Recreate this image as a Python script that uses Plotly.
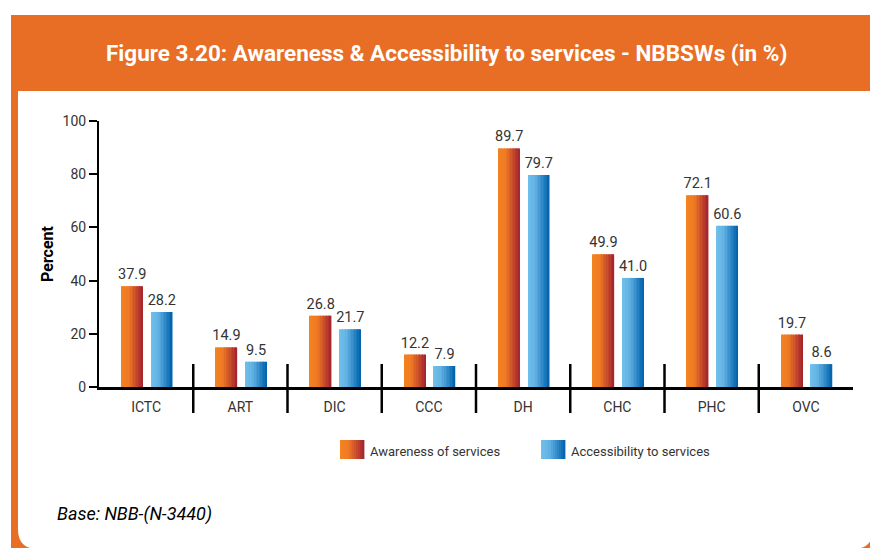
import plotly.graph_objects as go

categories = ["ICTC", "ART", "DIC", "CCC", "DH", "CHC", "PHC", "OVC"]
awareness = [37.9, 14.9, 26.8, 12.2, 89.7, 49.9, 72.1, 19.7]
accessibility = [28.2, 9.5, 21.7, 7.9, 79.7, 41.0, 60.6, 8.6]
series_names = ["Awareness of services", "Accessibility to services"]
y_ticks = [0, 20, 40, 60, 80, 100]

title_text = "Figure 3.20: Awareness & Accessibility to services - NBBSWs (in %)"
footer_text = "Base: NBB-(N-3440)"

FONT = "Roboto, Liberation Sans Narrow, Arial Narrow, sans-serif"

# figure geometry (pixels)
FW, FH = 870, 548
L, R, T, B = 99, 17, 121, 161
PW = FW - L - R
PH = FH - T - B
BOT = FH - B


def px(xp):
    return (xp - L) / PW


def py(yp):
    return (BOT - yp) / PH


def lerp(stops, t):
    for (t0, c0), (t1, c1) in zip(stops, stops[1:]):
        if t0 <= t <= t1:
            f = (t - t0) / (t1 - t0) if t1 > t0 else 0
            return "rgb(%d,%d,%d)" % tuple(round(a + (b - a) * f) for a, b in zip(c0, c1))
    return "rgb(%d,%d,%d)" % stops[-1][1]


orange_stops = [(0.0, (243, 131, 32)), (0.35, (240, 122, 36)), (1.0, (163, 34, 48))]
blue_stops = [(0.0, (112, 192, 236)), (0.35, (98, 178, 228)), (1.0, (0, 98, 172))]

K = 14
bar_w = 0.228
offsets = [-0.262, 0.052]

fig = go.Figure()

for vals, stops, off in [(awareness, orange_stops, offsets[0]), (accessibility, blue_stops, offsets[1])]:
    step = bar_w / K
    for j in range(K):
        t = (j + 0.5) / K
        w = step * 1.25 if j < K - 1 else step
        fig.add_trace(go.Bar(
            x=categories, y=vals, width=w, offset=off + j * step,
            marker=dict(color=lerp(stops, t), line=dict(width=0)),
            showlegend=False, hoverinfo="skip",
        ))
    # transparent bar carrying the value labels
    fig.add_trace(go.Bar(
        x=categories, y=vals, width=bar_w, offset=off,
        marker=dict(color="rgba(0,0,0,0)", line=dict(width=0)),
        text=["%.1f" % v for v in vals], textposition="outside", constraintext="none",
        textfont=dict(family=FONT, size=14.5, color="#333333"),
        cliponaxis=False, showlegend=False, hoverinfo="skip",
    ))

shapes = []
# orange frame
shapes.append(dict(type="rect", xref="paper", yref="paper", x0=px(11), x1=px(885), y0=py(15), y1=py(565),
                   fillcolor="#E86D25", line=dict(width=0), layer="below"))
# white panel with rounded bottom corners
x0, x1, y0, y1, r = px(18), px(873), py(91), py(549), 20
rx, ry = r / PW, r / PH
path = (f"M {x0},{y0} L {x1},{y0} L {x1},{y1 + ry} Q {x1},{y1} {x1 - rx},{y1} "
        f"L {x0 + rx},{y1} Q {x0},{y1} {x0},{y1 + ry} Z")
shapes.append(dict(type="path", xref="paper", yref="paper", path=path,
                   fillcolor="white", line=dict(width=0), layer="below"))
# category dividers
for i in range(len(categories) - 1):
    shapes.append(dict(type="line", xref="x", yref="paper", x0=i + 0.5, x1=i + 0.5,
                       y0=py(364), y1=py(413), line=dict(color="black", width=2.5)))

# legend swatches (gradient)
annotations = []
legend_x = [340, 541]
for lx, stops, name in zip(legend_x, [orange_stops, blue_stops], series_names):
    n = 12
    sw = 24 / n
    for j in range(n):
        shapes.append(dict(type="rect", xref="paper", yref="paper",
                           x0=px(lx + j * sw), x1=px(lx + (j + 1) * sw + 0.4),
                           y0=py(459), y1=py(440),
                           fillcolor=lerp(stops, (j + 0.5) / n), line=dict(width=0)))
    annotations.append(dict(xref="paper", yref="paper", x=px(lx + 28), y=py(451),
                            text=name, showarrow=False, xanchor="left", yanchor="middle",
                            font=dict(family=FONT, size=13, color="#333333")))

annotations.append(dict(xref="paper", yref="paper", x=px(446), y=py(53), text="<b>" + title_text + "</b>",
                        showarrow=False, xanchor="center", yanchor="middle",
                        font=dict(family=FONT, size=22.5, color="white")))
annotations.append(dict(xref="paper", yref="paper", x=px(55), y=py(514), text="<i>" + footer_text + "</i>",
                        showarrow=False, xanchor="left", yanchor="middle",
                        font=dict(family=FONT, size=18, color="black")))

fig.update_layout(
    width=FW, height=FH,
    margin=dict(l=L, r=R, t=T, b=B, pad=0),
    paper_bgcolor="white", plot_bgcolor="rgba(0,0,0,0)",
    barmode="overlay", showlegend=False,
    shapes=shapes, annotations=annotations,
    font=dict(family=FONT, color="#333333"),
    xaxis=dict(
        range=[-0.5, len(categories) - 0.5], showgrid=False, zeroline=False,
        showline=True, linecolor="black", linewidth=2.5, ticks="",
        tickfont=dict(family=FONT, size=14, color="#333333"),
        ticklabelstandoff=5, fixedrange=True,
    ),
    yaxis=dict(
        range=[0, 100], tickvals=y_ticks, showgrid=False, zeroline=False,
        showline=True, linecolor="black", linewidth=2, ticks="outside", ticklen=8,
        tickwidth=1.5, tickcolor="black",
        tickfont=dict(family=FONT, size=14, color="#333333"),
        title=dict(text="<b>Percent</b>", font=dict(family=FONT, size=16, color="black"), standoff=5),
        fixedrange=True,
    ),
)

fig.write_html("out.html", config={"displayModeBar": False},
               post_script="document.body.style.margin='0';document.body.style.padding='0';")
